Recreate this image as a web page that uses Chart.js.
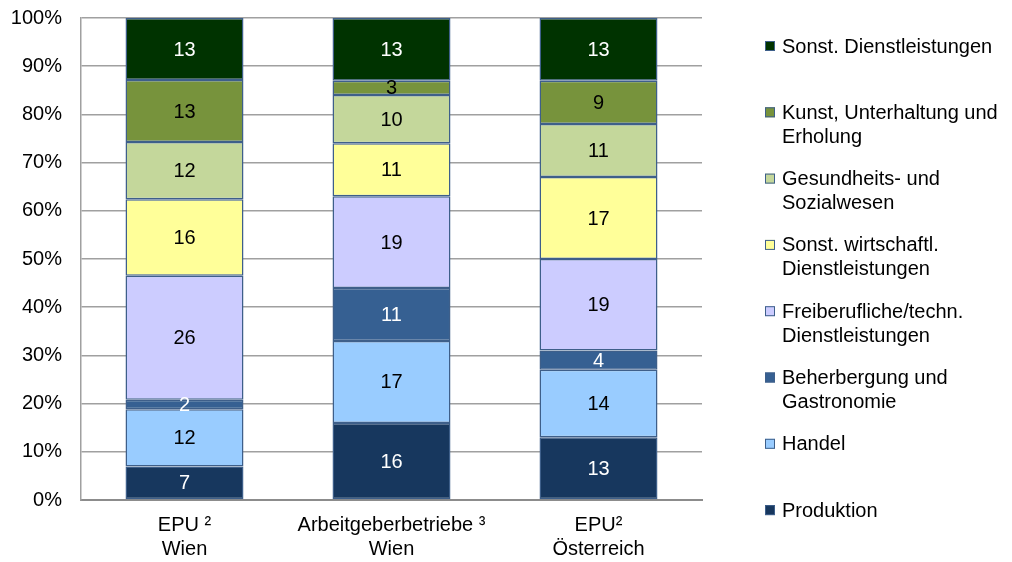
<!DOCTYPE html>
<html>
<head>
<meta charset="utf-8">
<script src="https://cdn.jsdelivr.net/npm/chart.js@4.4.0/dist/chart.umd.min.js"></script>
<style>
  html, body { margin: 0; padding: 0; background: #ffffff; }
  #wrap { width: 1012px; height: 562px; }
</style>
</head>
<body>
<div id="wrap"><canvas id="c" width="1012" height="562"></canvas></div>
<script>
// Categories (x axis, two lines each)
const categories = [
  ['EPU \u00B2', 'Wien'],
  ['Arbeitgeberbetriebe \u00B3', 'Wien'],
  ['EPU\u00B2', '\u00D6sterreich']
];

// Sector names, bottom of the stack first (legend lists them top-down)
const sectors = [
  ['Produktion'],
  ['Handel'],
  ['Beherbergung und', 'Gastronomie'],
  ['Freiberufliche/techn.', 'Dienstleistungen'],
  ['Sonst. wirtschaftl.', 'Dienstleistungen'],
  ['Gesundheits- und', 'Sozialwesen'],
  ['Kunst, Unterhaltung und', 'Erholung'],
  ['Sonst. Dienstleistungen']
];

// Shares in percent per category
const produktion     = [7, 16, 13];
const handel         = [12, 17, 14];
const beherbergung   = [2, 11, 4];
const freiberuflich  = [26, 19, 19];
const wirtschaftlich = [16, 11, 17];
const gesundheit     = [12, 10, 11];
const kunst          = [13, 3, 9];
const sonstige       = [13, 13, 13];

const yTickValues = [0, 10, 20, 30, 40, 50, 60, 70, 80, 90, 100];

const seriesValues = [produktion, handel, beherbergung, freiberuflich,
                      wirtschaftlich, gesundheit, kunst, sonstige];

const fillColors  = ['#17375E', '#99CCFF', '#366092', '#CCCCFF',
                     '#FFFF99', '#C4D79B', '#77933C', '#003300'];
const labelColors = ['#ffffff', '#000000', '#ffffff', '#000000',
                     '#000000', '#000000', '#000000', '#ffffff'];
const edgeColor = '#3E5F8A';
const FONT = '"Liberation Sans", Arial, sans-serif';
const FSIZE = 20;

// 100 % stacking: each column is scaled to its own total
const totals = categories.map((_, j) => seriesValues.reduce((s, arr) => s + arr[j], 0));

const datasets = seriesValues.map((vals, i) => ({
  label: sectors[i].join(' '),
  values: vals,
  data: vals.map((v, j) => v / totals[j] * 100),
  backgroundColor: fillColors[i],
  borderColor: edgeColor,
  borderWidth: 1.5,
  borderSkipped: false,
  barPercentage: 0.57,
  categoryPercentage: 1.0
}));

// Numbers in the middle of each segment
const valueLabels = {
  id: 'valueLabels',
  afterDatasetsDraw(chart) {
    const ctx = chart.ctx;
    ctx.save();
    ctx.font = FSIZE + 'px ' + FONT;
    ctx.textAlign = 'center';
    ctx.textBaseline = 'middle';
    chart.data.datasets.forEach((ds, i) => {
      const meta = chart.getDatasetMeta(i);
      meta.data.forEach((bar, j) => {
        const y = (bar.y + bar.base) / 2;
        ctx.fillStyle = labelColors[i];
        ctx.fillText(String(ds.values[j]), bar.x, y + 1);
      });
    });
    ctx.restore();
  }
};

// Legend on the right, top item = top of the stack
const sideLegend = {
  id: 'sideLegend',
  afterDraw(chart) {
    const ctx = chart.ctx;
    ctx.save();
    ctx.font = FSIZE + 'px ' + FONT;
    ctx.textAlign = 'left';
    ctx.textBaseline = 'middle';
    const n = sectors.length;
    const x0 = 765, top = 46, step = 66.3, lineH = 24, box = 10;
    for (let k = 0; k < n; k++) {
      const i = n - 1 - k;
      const yc = top + k * step;
      ctx.fillStyle = fillColors[i];
      ctx.fillRect(x0, yc - box / 2, box, box);
      ctx.strokeStyle = edgeColor;
      ctx.lineWidth = 1;
      ctx.strokeRect(x0 + 0.5, yc - box / 2 + 0.5, box - 1, box - 1);
      ctx.fillStyle = '#000000';
      sectors[i].forEach((line, l) => ctx.fillText(line, x0 + 17, yc + l * lineH + 1));
    }
    ctx.restore();
  }
};

new Chart(document.getElementById('c'), {
  type: 'bar',
  data: { labels: categories, datasets },
  options: {
    responsive: false,
    devicePixelRatio: 1,
    animation: false,
    layout: { padding: { left: 0, right: 310, top: 18, bottom: 0 } },
    plugins: { legend: { display: false }, tooltip: { enabled: false } },
    scales: {
      x: {
        stacked: true,
        grid: { display: false, drawTicks: false },
        border: { display: true, color: '#8C8C8C', width: 2 },
        ticks: { color: '#000000', font: { family: FONT, size: FSIZE }, padding: 13, maxRotation: 0, autoSkip: false },
        afterFit(scale) { scale.height = 62; }
      },
      y: {
        stacked: true,
        min: 0,
        max: 100,
        afterBuildTicks(scale) { scale.ticks = yTickValues.map(v => ({ value: v })); },
        grid: { color: '#A0A0A0', lineWidth: 1.5, drawTicks: false },
        border: { display: true, color: '#A0A0A0', width: 1.5 },
        ticks: { color: '#000000', font: { family: FONT, size: FSIZE }, padding: 19, callback: v => v + '%' },
        afterFit(scale) {
          scale.width = 81;
          scale.paddingTop = 0;
          scale.paddingBottom = 0;
        }
      }
    }
  },
  plugins: [valueLabels, sideLegend]
});
</script>
</body>
</html>
